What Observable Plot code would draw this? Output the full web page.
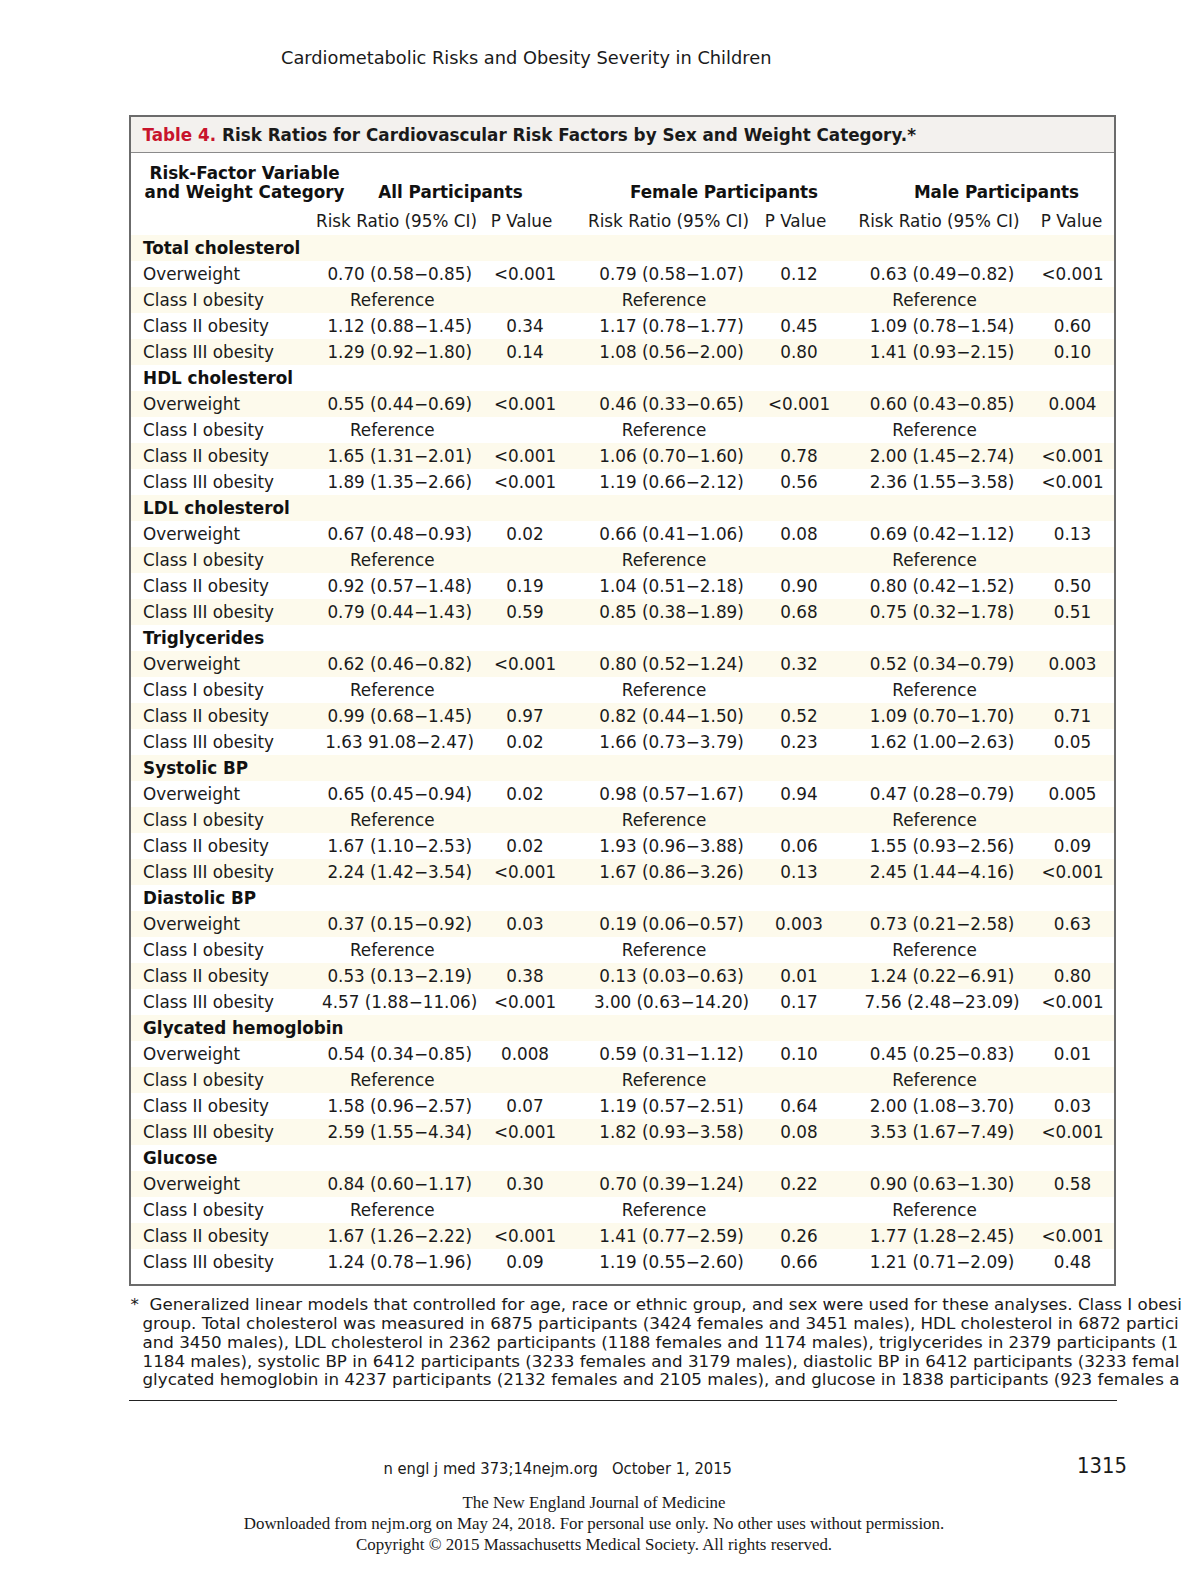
<!DOCTYPE html>
<html><head><meta charset="utf-8">
<script src="https://cdn.jsdelivr.net/npm/d3@7"></script>
<script src="https://cdn.jsdelivr.net/npm/@observablehq/plot@0.6"></script>
<style>
body{margin:0;background:#fff;}
#page{position:relative;width:1182px;height:1575px;overflow:hidden;font-family:"DejaVu Sans",sans-serif;color:#1a1a1a;}
.abs{position:absolute;white-space:nowrap;}
#box{position:absolute;left:129px;top:115px;width:983px;height:1167px;border:2px solid #6b6b6b;pointer-events:none;}
#band{position:absolute;left:131px;top:117px;width:983px;height:35px;background:#f3f1ee;border-bottom:1px solid #8a8a8a;}
#chart{position:absolute;left:0;top:153px;}
.fn{position:absolute;left:0;width:1182px;overflow:hidden;white-space:nowrap;font-size:16.72px;line-height:18.85px;}
</style></head>
<body><div id="page">
<div class="abs" style="left:281px;top:47px;font-size:17.8px;">Cardiometabolic Risks and Obesity Severity in Children</div>
<div id="band"></div>
<div class="abs" style="left:142.5px;top:124.5px;font-size:16.8px;font-weight:bold;"><span style="color:#c8142c">Table 4.</span> Risk Ratios for Cardiovascular Risk Factors by Sex and Weight Category.*</div>
<div id="chart"></div>
<div id="box"></div>
<div class="fn" style="top:1295px;">
<div style="padding-left:130.5px;">*&nbsp;&nbsp;Generalized linear models that controlled for age, race or ethnic group, and sex were used for these analyses. Class I obesi</div>
<div style="padding-left:142.5px;">group. Total cholesterol was measured in 6875 participants (3424 females and 3451 males), HDL cholesterol in 6872 partici</div>
<div style="padding-left:142.5px;">and 3450 males), LDL cholesterol in 2362 participants (1188 females and 1174 males), triglycerides in 2379 participants (1</div>
<div style="padding-left:142.5px;">1184 males), systolic BP in 6412 participants (3233 females and 3179 males), diastolic BP in 6412 participants (3233 femal</div>
<div style="padding-left:142.5px;">glycated hemoglobin in 4237 participants (2132 females and 2105 males), and glucose in 1838 participants (923 females a</div>
</div>
<div class="abs" style="left:128.5px;top:1400px;width:988px;height:1.3px;background:#222;"></div>
<div class="abs" style="left:383.5px;top:1459px;font-family:'Liberation Sans Narrow','DejaVu Sans Condensed',sans-serif;font-size:16.4px;">n engl j med 373;14nejm.org&nbsp;&nbsp;&nbsp;October 1, 2015</div>
<div class="abs" style="left:1077px;top:1453px;font-family:'Liberation Sans Narrow','DejaVu Sans Condensed',sans-serif;font-size:21.8px;">1315</div>
<div class="abs" style="left:3px;width:1182px;text-align:center;top:1492px;font-family:'Liberation Serif',serif;font-size:16.9px;line-height:21.1px;">
<div>The New England Journal of Medicine</div>
<div>Downloaded from nejm.org on May 24, 2018. For personal use only. No other uses without permission.</div>
<div>Copyright © 2015 Massachusetts Medical Society. All rights reserved.</div>
</div>
</div>
<script>
const groups = ["Total cholesterol","HDL cholesterol","LDL cholesterol","Triglycerides","Systolic BP","Diastolic BP","Glycated hemoglobin","Glucose"];
const categories = ["Overweight","Class I obesity","Class II obesity","Class III obesity"];
const allRR = [
 ["0.70 (0.58−0.85)","Reference","1.12 (0.88−1.45)","1.29 (0.92−1.80)"],
 ["0.55 (0.44−0.69)","Reference","1.65 (1.31−2.01)","1.89 (1.35−2.66)"],
 ["0.67 (0.48−0.93)","Reference","0.92 (0.57−1.48)","0.79 (0.44−1.43)"],
 ["0.62 (0.46−0.82)","Reference","0.99 (0.68−1.45)","1.63 91.08−2.47)"],
 ["0.65 (0.45−0.94)","Reference","1.67 (1.10−2.53)","2.24 (1.42−3.54)"],
 ["0.37 (0.15−0.92)","Reference","0.53 (0.13−2.19)","4.57 (1.88−11.06)"],
 ["0.54 (0.34−0.85)","Reference","1.58 (0.96−2.57)","2.59 (1.55−4.34)"],
 ["0.84 (0.60−1.17)","Reference","1.67 (1.26−2.22)","1.24 (0.78−1.96)"]];
const allP = [
 ["<0.001","","0.34","0.14"],["<0.001","","<0.001","<0.001"],["0.02","","0.19","0.59"],["<0.001","","0.97","0.02"],
 ["0.02","","0.02","<0.001"],["0.03","","0.38","<0.001"],["0.008","","0.07","<0.001"],["0.30","","<0.001","0.09"]];
const femRR = [
 ["0.79 (0.58−1.07)","Reference","1.17 (0.78−1.77)","1.08 (0.56−2.00)"],
 ["0.46 (0.33−0.65)","Reference","1.06 (0.70−1.60)","1.19 (0.66−2.12)"],
 ["0.66 (0.41−1.06)","Reference","1.04 (0.51−2.18)","0.85 (0.38−1.89)"],
 ["0.80 (0.52−1.24)","Reference","0.82 (0.44−1.50)","1.66 (0.73−3.79)"],
 ["0.98 (0.57−1.67)","Reference","1.93 (0.96−3.88)","1.67 (0.86−3.26)"],
 ["0.19 (0.06−0.57)","Reference","0.13 (0.03−0.63)","3.00 (0.63−14.20)"],
 ["0.59 (0.31−1.12)","Reference","1.19 (0.57−2.51)","1.82 (0.93−3.58)"],
 ["0.70 (0.39−1.24)","Reference","1.41 (0.77−2.59)","1.19 (0.55−2.60)"]];
const femP = [
 ["0.12","","0.45","0.80"],["<0.001","","0.78","0.56"],["0.08","","0.90","0.68"],["0.32","","0.52","0.23"],
 ["0.94","","0.06","0.13"],["0.003","","0.01","0.17"],["0.10","","0.64","0.08"],["0.22","","0.26","0.66"]];
const maleRR = [
 ["0.63 (0.49−0.82)","Reference","1.09 (0.78−1.54)","1.41 (0.93−2.15)"],
 ["0.60 (0.43−0.85)","Reference","2.00 (1.45−2.74)","2.36 (1.55−3.58)"],
 ["0.69 (0.42−1.12)","Reference","0.80 (0.42−1.52)","0.75 (0.32−1.78)"],
 ["0.52 (0.34−0.79)","Reference","1.09 (0.70−1.70)","1.62 (1.00−2.63)"],
 ["0.47 (0.28−0.79)","Reference","1.55 (0.93−2.56)","2.45 (1.44−4.16)"],
 ["0.73 (0.21−2.58)","Reference","1.24 (0.22−6.91)","7.56 (2.48−23.09)"],
 ["0.45 (0.25−0.83)","Reference","2.00 (1.08−3.70)","3.53 (1.67−7.49)"],
 ["0.90 (0.63−1.30)","Reference","1.77 (1.28−2.45)","1.21 (0.71−2.09)"]];
const maleP = [
 ["<0.001","","0.60","0.10"],["0.004","","<0.001","<0.001"],["0.13","","0.50","0.51"],["0.003","","0.71","0.05"],
 ["0.005","","0.09","<0.001"],["0.63","","0.80","<0.001"],["0.01","","0.03","<0.001"],["0.58","","<0.001","0.48"]];
const groupHeads = ["All Participants","Female Participants","Male Participants"];
const subHeads = ["Risk Ratio (95% CI)","P Value","Risk Ratio (95% CI)","P Value","Risk Ratio (95% CI)","P Value"];
const stubHead = ["Risk-Factor Variable","and Weight Category"];

// layout (pixel centers of columns)
const colX = {allRR:399.2, allP:524.5, femRR:671, femP:798.5, maleRR:941.5, maleP:1072};
const subX = [396, 521, 668, 795, 938.5, 1071];
const groupX = [450, 723.5, 996];
const labelX = 142.6;
const refShift = 7.5;

const rows = [];
const cells = [];
groups.forEach((g, gi) => {
  rows.push({i: rows.length, label: g, header: true});
  categories.forEach((c, ci) => {
    const i = rows.length;
    rows.push({i, label: c, header: false});
    const src = {allRR, allP, femRR, femP, maleRR, maleP};
    for (const k of Object.keys(src)) {
      const t = src[k][gi][ci];
      if (t) cells.push({i, col: k, text: t, ref: t === "Reference"});
    }
  });
});

const chart = Plot.plot({
  width: 1182, height: 1133,
  marginTop: 79.5, marginBottom: 8, marginLeft: 0, marginRight: 0,
  x: {type: "linear", domain: [0, 1182], range: [0, 1182]},
  y: {type: "band", domain: d3.range(rows.length), padding: 0, axis: null},
  style: {fontFamily: "DejaVu Sans", fontSize: "16.8px", color: "#1a1a1a", background: "transparent", overflow: "visible"},
  marks: [
    Plot.barX(rows.filter(r => r.i % 2 === 0), {x1: () => 131, x2: () => 1114, y: "i", fill: "#fdfaec"}),
    Plot.text(rows.filter(r => r.header), {x: () => labelX, y: "i", text: "label", textAnchor: "start", fontWeight: "bold", fill: "#111"}),
    Plot.text(rows.filter(r => !r.header), {x: () => labelX, y: "i", text: "label", textAnchor: "start", fill: "#1a1a1a"}),
    Plot.text(cells, {x: d => colX[d.col] - (d.ref ? refShift : 0), y: "i", text: "text", fill: "#1a1a1a"}),
    Plot.axisX(subX, {anchor: "top", tickSize: 0, tickPadding: 6.5, tickFormat: (d, k) => subHeads[k], label: null, fontSize: 16.8, fill: "#1a1a1a"}),
    Plot.text(groupHeads, {x: (d, k) => groupX[k], frameAnchor: "top", dy: -47, fontWeight: "bold", fill: "#111"}),
    Plot.text([stubHead[0]], {x: () => 244, frameAnchor: "top", dy: -66, fontWeight: "bold", fill: "#111"}),
    Plot.text([stubHead[1]], {x: () => 244, frameAnchor: "top", dy: -47, fontWeight: "bold", fill: "#111"})
  ]
});
document.getElementById("chart").appendChild(chart);
</script>
</body></html>
